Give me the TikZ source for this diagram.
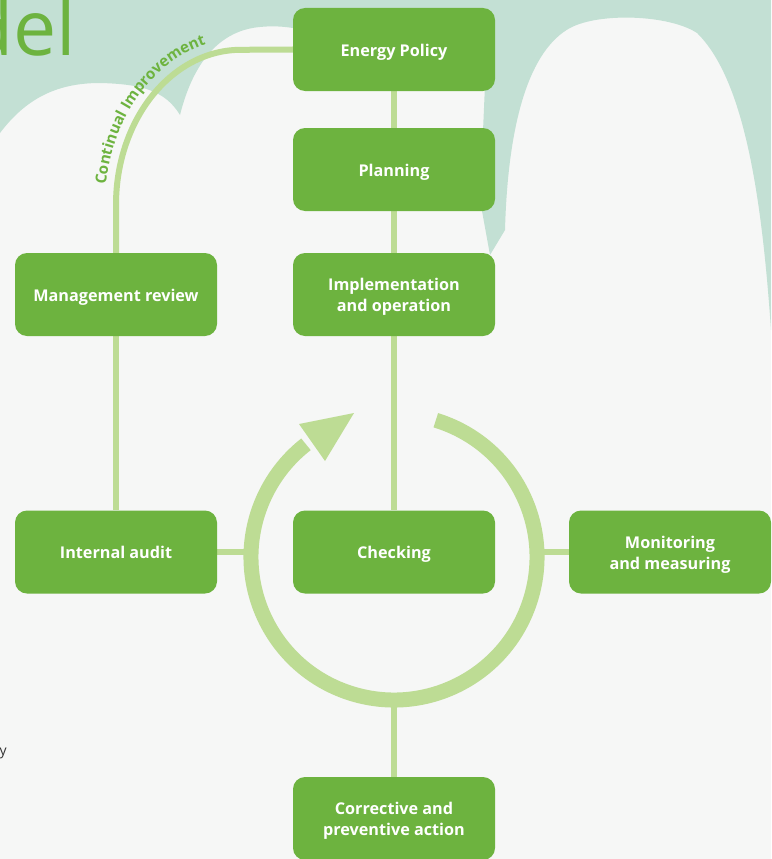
\documentclass[tikz,border=0pt]{standalone}
\usepackage{fontspec}
\setmainfont{Open Sans}
\usetikzlibrary{decorations.text,calc}
\definecolor{boxgreen}{HTML}{6DB33F}
\definecolor{linegreen}{HTML}{BDDC94}
\definecolor{bgteal}{HTML}{C3E0D4}
\definecolor{bgbase}{HTML}{F6F7F6}
\definecolor{darktext}{HTML}{333333}
\newcommand{\bxt}[1]{\raisebox{0pt}[\dimexpr\height+5pt\relax][\depth]{\begin{tabular}{@{}c@{}}#1\end{tabular}}}
\pgfdeclarelayer{bg}
\pgfdeclarelayer{lines}
\pgfsetlayers{bg,lines,main}
\begin{document}
\begin{tikzpicture}[x=1pt,y=1pt,
  box/.style={rectangle, rounded corners=12pt, fill=boxgreen, minimum width=202pt,
    minimum height=83pt, text=white, font=\bfseries\fontsize{16.2}{21}\selectfont,
    inner sep=0pt},
  conn/.style={draw=linegreen, line width=6pt},
  ring/.style={draw=linegreen, line width=15pt}]
\useasboundingbox (0,0) rectangle (771,-859);
\clip (0,0) rectangle (771,-859);

% background
\begin{pgfonlayer}{bg}
\fill[bgbase] (0,0) rectangle (771,-859);
\fill[bgteal] (0,0) -- (771,0) -- (771,-330)
  .. controls (762,-200) and (745,-80) .. (697,-33)
  .. controls (670,-15) and (600,-12) .. (570,-28)
  .. controls (530,-50) and (508,-120) .. (505,-230)
  -- (490,-255) -- (480,-200) -- (485,-85) -- (300,-85) -- (293,-28)
  .. controls (280,-26) and (270,-26) .. (260,-27)
  .. controls (225,-30) and (195,-55) .. (180,-115)
  .. controls (165,-90) and (140,-84) .. (100,-83)
  .. controls (55,-83) and (25,-100) .. (0,-133) -- cycle;
\end{pgfonlayer}

% title fragments
\node[anchor=base west, inner sep=0pt, text=boxgreen,
  font=\fontsize{77}{77}\selectfont] (title) at (-34,-56) {del};
\node[anchor=base east, inner sep=0pt, text=darktext,
  font=\fontsize{14}{16}\selectfont] (tail) at (7,-755) {y};

% boxes
\node[box] (ep) at (394,-49.5) {\bxt{Energy Policy}};
\node[box] (pl) at (394,-169.5) {\bxt{Planning}};
\node[box] (io) at (394,-294.5) {\bxt{Implementation\\and operation}};
\node[box] (mr) at (116,-294.5) {\bxt{Management review}};
\node[box] (ia) at (116,-552) {\bxt{Internal audit}};
\node[box] (ch) at (394,-552) {\bxt{Checking}};
\node[box] (mm) at (670,-552) {\bxt{Monitoring\\and measuring}};
\node[box] (ca) at (394,-818.5) {\bxt{Corrective and\\preventive action}};

% cycle arrow
\coordinate (cyc) at (394,-557);
\coordinate (cycW) at (246,-552);
\coordinate (cycE) at (542,-552);
\coordinate (cycS) at (394,-700);
\coordinate (tipA) at (354,-413);
\coordinate (tipB) at (299,-424);
\coordinate (tipC) at (325,-461);

\begin{pgfonlayer}{lines}
\draw[conn] (ep) -- (pl);
\draw[conn] (pl) -- (io);
\draw[conn] (io) -- (ch);
\draw[conn] (mr) -- (ia);
\draw[conn] (ia.east) -- (cycW);
\draw[conn] (mm.west) -- (cycE);
\draw[conn] (cycS) -- (ca.north);
\draw[conn] (mr.north) -- ++(0,48)
  arc[start angle=180, end angle=90, x radius=125, y radius=155] -- (ep.west);
\draw[ring] ($(cyc)+(73:143)$) arc[start angle=73, end angle=-232, radius=143];
\fill[linegreen] (tipA) -- (tipB) -- (tipC) -- cycle;
\path[decorate, decoration={text along path,
  text={|\color{boxgreen}\bfseries\fontsize{15.2}{18}\selectfont|Continual Improvement},
  text align=left}]
  ({241+136*cos(173)},{-205+166*sin(173)})
  arc[start angle=173, end angle=92, x radius=136, y radius=166];
\end{pgfonlayer}
\end{tikzpicture}
\end{document}
